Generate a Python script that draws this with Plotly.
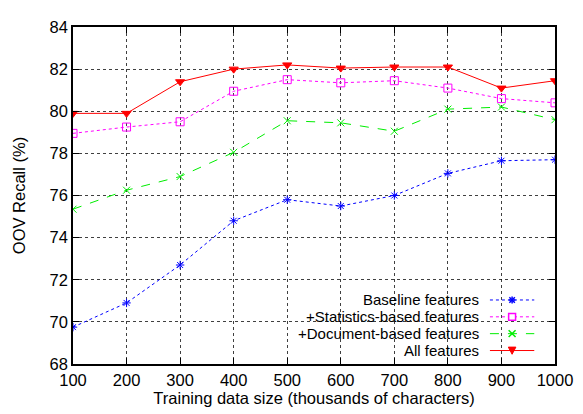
import plotly.graph_objects as go

sizes = [100, 200, 300, 400, 500, 600, 700, 800, 900, 1000]
baseline = [69.75, 70.9, 72.7, 74.8, 75.8, 75.5, 76.0, 77.05, 77.65, 77.7]
stats = [78.95, 79.25, 79.5, 80.95, 81.5, 81.35, 81.45, 81.1, 80.6, 80.4]
document = [75.35, 76.25, 76.9, 78.05, 79.55, 79.45, 79.05, 80.1, 80.2, 79.6]
all_feats = [79.9, 79.9, 81.4, 82.0, 82.2, 82.05, 82.1, 82.1, 81.1, 81.45]

names = ["Baseline features", "+Statistics-based features",
         "+Document-based features", "All features"]
values = [baseline, stats, document, all_feats]
colors = ["#0000ff", "#ff00ff", "#00ee00", "#ff0000"]
dashes = ["dot", "dot", "dash", "solid"]
symbols = ["asterisk-open", "square-open", "x-thin-open", "triangle-down"]
msizes = [7, 8, 7, 8]

FONT = "Liberation Sans, Arial, Helvetica, sans-serif"
FS = 16.5
LFS = 15

fig = go.Figure()
for name, vals, color, dash, sym, ms in zip(names, values, colors, dashes, symbols, msizes):
    fig.add_trace(go.Scatter(
        x=sizes, y=vals, name=name, mode="lines+markers", showlegend=False,
        line=dict(color=color, width=1, dash=dash),
        marker=dict(symbol=sym, size=ms, color=color, line=dict(color=color, width=1)),
    ))

axis_common = dict(
    showline=True, linecolor="black", linewidth=1.5, mirror="ticks",
    ticks="inside", ticklen=6, tickcolor="black",
    showgrid=True, gridcolor="rgba(0,0,0,0.75)", griddash="dot", gridwidth=1,
    zeroline=False,
    tickfont=dict(family=FONT, size=FS, color="black"),
)

fig.update_xaxes(range=[100, 1000], tickvals=sizes,
                 title=dict(text="Training data size (thousands of characters)",
                            font=dict(family=FONT, size=FS, color="black"),
                            standoff=3),
                 **axis_common)
fig.update_yaxes(range=[68, 84], dtick=2,
                 title=dict(text="OOV Recall (%)",
                            font=dict(family=FONT, size=FS, color="black"),
                            standoff=20),
                 **axis_common)

# Plot area size in px (for legend glyph sizes in paper units)
W, H = 488.0, 346.0

# Custom legend (gnuplot style: text right-aligned, sample on the right)
shapes = [dict(type="rect", xref="paper", yref="paper", x0=0.311, x1=0.977,
               y0=0.0, y1=0.214, fillcolor="white", line=dict(width=0),
               layer="between")]
annotations = []
row_y = [0.190, 0.140, 0.090, 0.040]
tx, lx0, lx1, mx = 0.846, 0.865, 0.957, 0.911
for i, (name, color, dash) in enumerate(zip(names, colors, dashes)):
    yy = row_y[i]
    annotations.append(dict(text=name, xref="paper", yref="paper", x=tx, y=yy,
                            xanchor="right", yanchor="middle", showarrow=False,
                            font=dict(family=FONT, size=LFS, color="black")))
    shapes.append(dict(type="line", xref="paper", yref="paper", x0=lx0, x1=lx1,
                       y0=yy, y1=yy, line=dict(color=color, width=1, dash=dash),
                       layer="above"))
    dx = 3.5 / W
    dy = 3.5 / H
    if i == 0:  # asterisk
        for a, b, c, d in [(-dx, 0, dx, 0), (0, -dy, 0, dy),
                           (-dx * 0.8, -dy * 0.8, dx * 0.8, dy * 0.8),
                           (-dx * 0.8, dy * 0.8, dx * 0.8, -dy * 0.8)]:
            shapes.append(dict(type="line", xref="paper", yref="paper",
                               x0=mx + a, y0=yy + b, x1=mx + c, y1=yy + d,
                               line=dict(color=color, width=1.5), layer="above"))
    elif i == 1:  # open square
        shapes.append(dict(type="rect", xref="paper", yref="paper",
                           x0=mx - dx, x1=mx + dx, y0=yy - dy, y1=yy + dy,
                           line=dict(color=color, width=1.5), fillcolor="white",
                           layer="above"))
    elif i == 2:  # x
        for a, b, c, d in [(-dx, -dy, dx, dy), (-dx, dy, dx, -dy)]:
            shapes.append(dict(type="line", xref="paper", yref="paper",
                               x0=mx + a, y0=yy + b, x1=mx + c, y1=yy + d,
                               line=dict(color=color, width=1.5), layer="above"))
    else:  # triangle down
        path = "M {x0},{y0} L {x1},{y0} L {xm},{y1} Z".format(
            x0=mx - dx * 1.1, x1=mx + dx * 1.1, y0=yy + dy, xm=mx, y1=yy - dy * 1.1)
        shapes.append(dict(type="path", xref="paper", yref="paper", path=path,
                           fillcolor=color, line=dict(color=color, width=1),
                           layer="above"))

# The page body has an 8px margin; size the figure so the plot area lands
# where it is in the reference (top margin leaves room for the "84" label).
fig.update_layout(
    width=575, height=406,
    margin=dict(l=65, r=22, t=10, b=50),
    plot_bgcolor="white", paper_bgcolor="white",
    font=dict(family=FONT, size=FS, color="black"),
    showlegend=False,
    shapes=shapes,
    annotations=annotations,
)

fig.write_html("out.html")
